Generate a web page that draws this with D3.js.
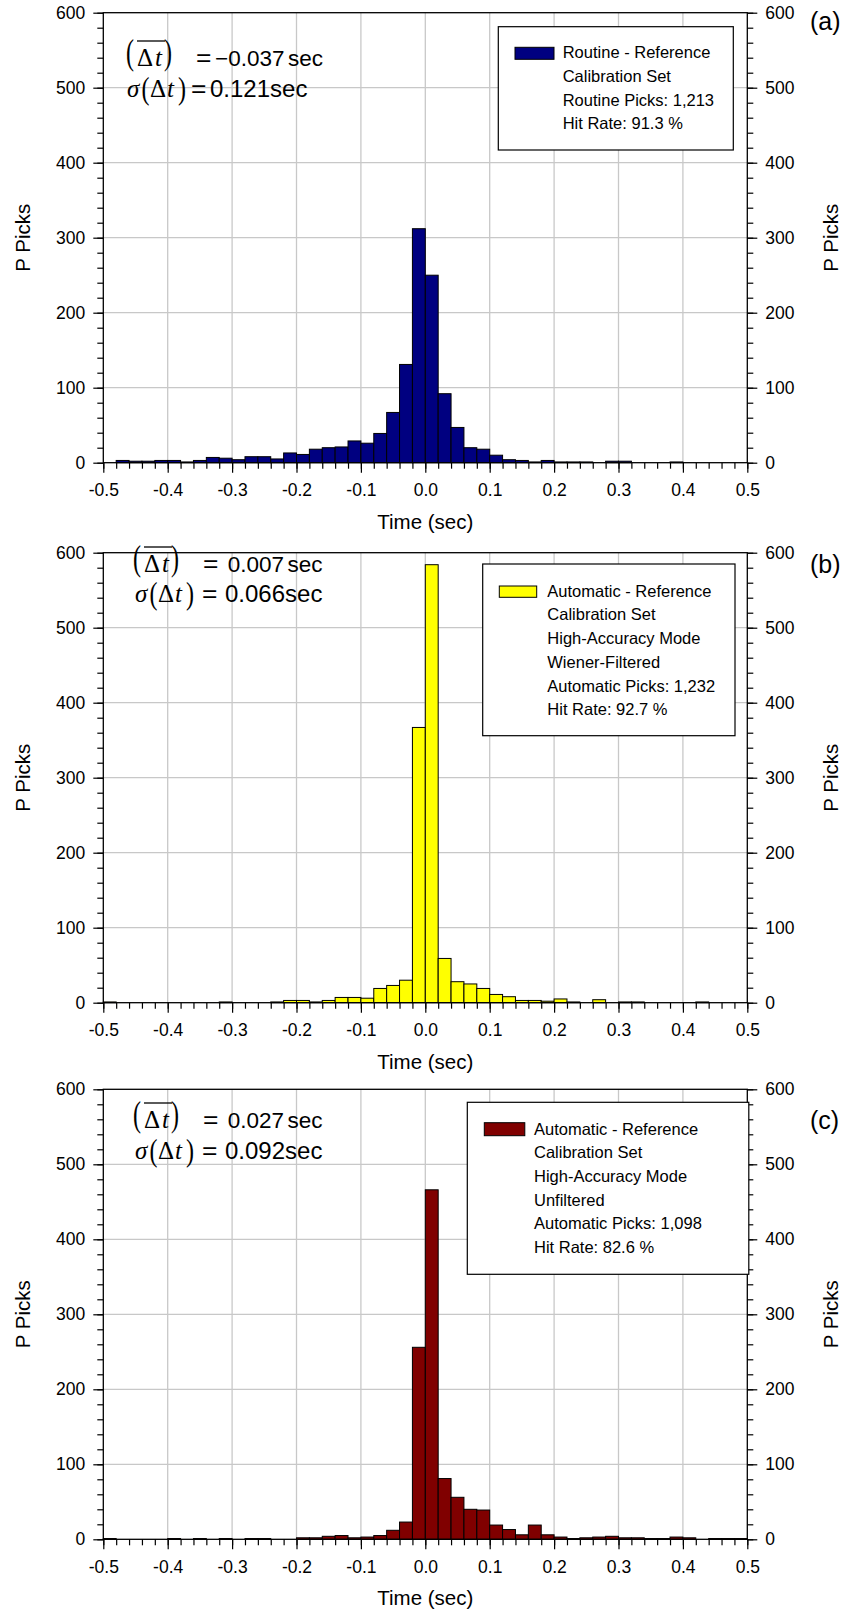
<!DOCTYPE html>
<html>
<head>
<meta charset="utf-8">
<title>P pick time residual histograms</title>
<script src="https://cdn.jsdelivr.net/npm/d3@7/dist/d3.min.js"></script>
<style>
  html, body { margin: 0; padding: 0; background: #fff; }
  svg { display: block; }
  text { font-family: "Liberation Sans", Arial, sans-serif; fill: #000; }
  .serif { font-family: "Liberation Serif", "Times New Roman", serif; }
</style>
</head>
<body>
<svg id="chart" width="849" height="1614"></svg>
<script>
// Left edge of each 0.02 s time-residual bin
const binStarts = [
  -0.50, -0.48, -0.46, -0.44, -0.42, -0.40, -0.38, -0.36, -0.34, -0.32,
  -0.30, -0.28, -0.26, -0.24, -0.22, -0.20, -0.18, -0.16, -0.14, -0.12,
  -0.10, -0.08, -0.06, -0.04, -0.02,  0.00,  0.02,  0.04,  0.06,  0.08,
   0.10,  0.12,  0.14,  0.16,  0.18,  0.20,  0.22,  0.24,  0.26,  0.28,
   0.30,  0.32,  0.34,  0.36,  0.38,  0.40,  0.42,  0.44,  0.46,  0.48
];
const binWidth = 0.02;

// P pick counts per bin
const routineCounts = [
  0, 3, 2, 2, 3, 3, 1, 3, 7, 6,
  4, 8, 8, 5, 13, 11, 18, 20, 21, 29,
  26, 39, 67, 131, 312, 250, 92, 47, 20, 18,
  10, 4, 3, 1, 3, 1, 1, 1, 0, 2,
  2, 0, 0, 0, 1, 0, 0, 0, 0, 0
];
const wienerCounts = [
  1, 0, 0, 0, 0, 0, 0, 0, 0, 1,
  0, 0, 0, 1, 3, 3, 1, 3, 7, 7,
  6, 19, 23, 30, 367, 584, 59, 28, 25, 19,
  11, 8, 3, 3, 2, 5, 1, 0, 4, 0,
  1, 1, 0, 0, 0, 0, 1, 0, 0, 0
];
const unfilteredCounts = [
  1, 0, 0, 0, 0, 1, 0, 1, 0, 1,
  0, 1, 1, 0, 0, 2, 2, 4, 5, 2,
  3, 5, 12, 23, 256, 466, 81, 56, 40, 39,
  19, 13, 6, 19, 6, 3, 1, 2, 3, 4,
  2, 2, 1, 1, 3, 2, 0, 1, 1, 1
];

// Axis ticks
const xTickValues = [-0.5, -0.4, -0.3, -0.2, -0.1, 0.0, 0.1, 0.2, 0.3, 0.4, 0.5];
const xTickLabels = ["-0.5", "-0.4", "-0.3", "-0.2", "-0.1", "0.0", "0.1", "0.2", "0.3", "0.4", "0.5"];
const yTickValues = [0, 100, 200, 300, 400, 500, 600];
const yTickLabels = ["0", "100", "200", "300", "400", "500", "600"];
const yMinorStep = 20;

// Text content
const panelNames = ["(a)", "(b)", "(c)"];
const barColors = ["#000080", "#ffff00", "#800000"];
const meanLabels = ["\u22120.037", "0.007", "0.027"];
const sdLabels = ["0.121", "0.066", "0.092"];
const legendRoutine = ["Routine - Reference", "Calibration Set", "Routine Picks: 1,213", "Hit Rate: 91.3 %"];
const legendWiener = ["Automatic - Reference", "Calibration Set", "High-Accuracy Mode", "Wiener-Filtered", "Automatic Picks: 1,232", "Hit Rate: 92.7 %"];
const legendUnfiltered = ["Automatic - Reference", "Calibration Set", "High-Accuracy Mode", "Unfiltered", "Automatic Picks: 1,098", "Hit Rate: 82.6 %"];
const xTitle = "Time (sec)";
const yTitle = "P Picks";

// Equation layouts: x positions of each glyph group
const eqWide = {
  open1: 126, delta1: 137, t1: 155, close1: 164, eq1: 196, numEnd1: 284.5, sec1: 288,
  sigma: 127, open2: 141.5, delta2: 150, t2: 167, close2: 178, eq2: 191, num2: 210, spacing2: 0
};
const eqShift = {
  open1: 133, delta1: 144, t1: 162, close1: 171, eq1: 203, numEnd1: 284, sec1: 287.5,
  sigma: 135, open2: 149.5, delta2: 158, t2: 175, close2: 186, eq2: 202, num2: 225, spacing2: 0
};

// Page geometry
const plotLeft = 103.3, plotRight = 747.3;
const panels = [
  { counts: routineCounts, color: barColors[0], legend: legendRoutine, mean: meanLabels[0], sd: sdLabels[0], name: panelNames[0],
    top: 12.7, bottom: 462.7,
    box: { x: 498.3, y: 26.7, w: 235, h: 123.3 }, sw: { x: 515, y: 47.3, w: 39, h: 12 }, lt: { x: 562.7, y: 58.3 },
    eq: eqWide, y1: 66, y2: 97, nameY: 30 },
  { counts: wienerCounts, color: barColors[1], legend: legendWiener, mean: meanLabels[1], sd: sdLabels[1], name: panelNames[1],
    top: 552.7, bottom: 1002.7,
    box: { x: 482.7, y: 564, w: 252.3, h: 171.7 }, sw: { x: 499.3, y: 586, w: 37.4, h: 11.3 }, lt: { x: 547.3, y: 596.7 },
    eq: eqShift, y1: 572, y2: 602, nameY: 573 },
  { counts: unfilteredCounts, color: barColors[2], legend: legendUnfiltered, mean: meanLabels[2], sd: sdLabels[2], name: panelNames[2],
    top: 1089.3, bottom: 1539.3,
    box: { x: 467.3, y: 1102.3, w: 281.5, h: 172 }, sw: { x: 484.3, y: 1122.7, w: 40.5, h: 13 }, lt: { x: 534, y: 1134.5 },
    eq: eqShift, y1: 1128, y2: 1159, nameY: 1129 }
];
const legendLineGap = 23.7;

const svg = d3.select("#chart");
const x = d3.scaleLinear().domain([-0.5, 0.5]).range([plotLeft, plotRight]);
const xMinor = binStarts.concat([0.5]);
const yMinor = d3.range(0, 601, yMinorStep);
const tickFont = 17.5;

panels.forEach(p => {
  const y = d3.scaleLinear().domain([0, 600]).range([p.bottom, p.top]);
  const g = svg.append("g");

  // grid
  g.append("g").selectAll("line").data(xTickValues.slice(1, -1)).join("line")
    .attr("x1", d => x(d)).attr("x2", d => x(d)).attr("y1", p.top).attr("y2", p.bottom)
    .attr("stroke", "#c8c8c8").attr("stroke-width", 1.3);
  g.append("g").selectAll("line").data(yTickValues.slice(1, -1)).join("line")
    .attr("x1", plotLeft).attr("x2", plotRight).attr("y1", d => y(d)).attr("y2", d => y(d))
    .attr("stroke", "#c8c8c8").attr("stroke-width", 1.3);

  // bars
  g.append("g").selectAll("rect").data(binStarts.map((s, i) => ({ s, c: p.counts[i] }))).join("rect")
    .attr("x", d => x(d.s)).attr("width", d => x(d.s + binWidth) - x(d.s))
    .attr("y", d => y(d.c)).attr("height", d => y(0) - y(d.c))
    .attr("fill", p.color).attr("stroke", "#000").attr("stroke-width", 1);

  // axes: minor ticks
  const styleAxis = a => { a.select(".domain").remove(); a.selectAll("line").attr("stroke", "#000").attr("stroke-width", 1.2); };
  g.append("g").attr("transform", `translate(0,${p.bottom})`)
    .call(d3.axisBottom(x).tickValues(xMinor).tickSize(6).tickFormat(""))
    .call(styleAxis).selectAll("text").remove();
  g.append("g").attr("transform", `translate(${plotLeft},0)`)
    .call(d3.axisLeft(y).tickValues(yMinor).tickSize(6).tickFormat(""))
    .call(styleAxis).selectAll("text").remove();
  g.append("g").attr("transform", `translate(${plotRight},0)`)
    .call(d3.axisRight(y).tickValues(yMinor).tickSize(6).tickFormat(""))
    .call(styleAxis).selectAll("text").remove();

  // axes: major ticks with labels
  const xa = g.append("g").attr("transform", `translate(0,${p.bottom})`)
    .call(d3.axisBottom(x).tickValues(xTickValues).tickSize(10).tickPadding(11)
      .tickFormat((d, i) => xTickLabels[i]))
    .call(styleAxis);
  xa.selectAll("text").attr("font-size", tickFont).attr("font-family", "Liberation Sans, Arial, sans-serif");
  const yl = g.append("g").attr("transform", `translate(${plotLeft},0)`)
    .call(d3.axisLeft(y).tickValues(yTickValues).tickSize(10).tickPadding(8)
      .tickFormat((d, i) => yTickLabels[i]))
    .call(styleAxis);
  yl.selectAll("text").attr("font-size", tickFont).attr("font-family", "Liberation Sans, Arial, sans-serif");
  const yr = g.append("g").attr("transform", `translate(${plotRight},0)`)
    .call(d3.axisRight(y).tickValues(yTickValues).tickSize(10).tickPadding(8)
      .tickFormat((d, i) => yTickLabels[i]))
    .call(styleAxis);
  yr.selectAll("text").attr("font-size", tickFont).attr("font-family", "Liberation Sans, Arial, sans-serif");

  // frame
  g.append("rect").attr("x", plotLeft).attr("y", p.top).attr("width", plotRight - plotLeft).attr("height", p.bottom - p.top)
    .attr("fill", "none").attr("stroke", "#000").attr("stroke-width", 1.3);

  // axis titles
  g.append("text").attr("x", (plotLeft + plotRight) / 2).attr("y", p.bottom + 66)
    .attr("text-anchor", "middle").attr("font-size", 20.5).text(xTitle);
  const cy = (p.top + p.bottom) / 2;
  g.append("text").attr("transform", `translate(30,${cy}) rotate(-90)`)
    .attr("text-anchor", "middle").attr("font-size", 20.5).text(yTitle);
  g.append("text").attr("transform", `translate(838,${cy}) rotate(-90)`)
    .attr("text-anchor", "middle").attr("font-size", 20.5).text(yTitle);

  // panel tag
  g.append("text").attr("x", 810).attr("y", p.nameY).attr("font-size", 25).text(p.name);

  // legend
  g.append("rect").attr("x", p.box.x).attr("y", p.box.y).attr("width", p.box.w).attr("height", p.box.h)
    .attr("fill", "#fff").attr("stroke", "#000").attr("stroke-width", 1.2);
  g.append("rect").attr("x", p.sw.x).attr("y", p.sw.y).attr("width", p.sw.w).attr("height", p.sw.h)
    .attr("fill", p.color).attr("stroke", "#000").attr("stroke-width", 1);
  g.append("g").selectAll("text").data(p.legend).join("text")
    .attr("x", p.lt.x).attr("y", (d, i) => p.lt.y + i * legendLineGap)
    .attr("font-size", 16.5).text(d => d);

  // mean and standard deviation of the residuals
  const e = p.eq, y1 = p.y1, y2 = p.y2;
  const eq = g.append("g");
  const paren = (ch, px, py, s) => eq.append("text").attr("class", "serif")
    .attr("transform", `translate(${px},${py}) scale(1,${s})`).attr("font-size", 24).text(ch);
  const serif = (ch, px, py, italic) => eq.append("text").attr("class", "serif")
    .attr("x", px).attr("y", py).attr("font-size", 25)
    .attr("font-style", italic ? "italic" : "normal").text(ch);
  const sans = (str, px, py, size, anchor) => eq.append("text").attr("x", px).attr("y", py)
    .attr("font-size", size).attr("text-anchor", anchor || "start").text(str);
  const equals = (px, py) => eq.append("text")
    .attr("transform", `translate(${px},${py}) scale(1.15,1)`).attr("font-size", 23).text("=");

  // line 1: (Δt with overbar) = mean sec
  paren("(", e.open1, y1 - 2.5, 1.5);
  serif("\u0394", e.delta1, y1, false);
  serif("t", e.t1, y1, true);
  paren(")", e.close1, y1 - 2.5, 1.5);
  eq.append("line").attr("x1", e.delta1).attr("x2", e.close1 + 1).attr("y1", y1 - 25).attr("y2", y1 - 25)
    .attr("stroke", "#000").attr("stroke-width", 1.3);
  equals(e.eq1, y1);
  sans(p.mean, e.numEnd1, y1, 22.5, "end");
  sans("sec", e.sec1, y1, 22.5);

  // line 2: σ(Δt) = sd sec
  serif("\u03c3", e.sigma, y2, true);
  paren("(", e.open2, y2 + 2, 1.3);
  serif("\u0394", e.delta2, y2, false);
  serif("t", e.t2, y2, true);
  paren(")", e.close2, y2 + 2, 1.3);
  equals(e.eq2, y2);
  sans(p.sd + "sec", e.num2, y2, 24).attr("letter-spacing", e.spacing2);
});
</script>
</body>
</html>
